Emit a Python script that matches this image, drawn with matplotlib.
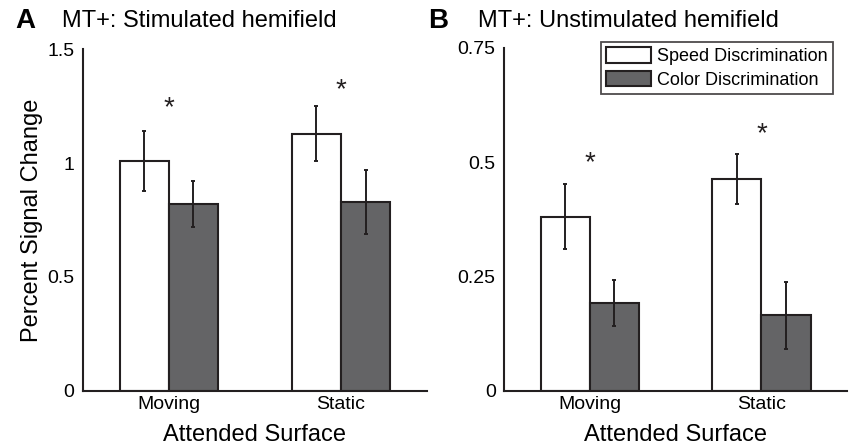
import matplotlib
matplotlib.use("Agg")
import matplotlib.pyplot as plt
from matplotlib.patches import Patch
import numpy as np

plt.rcParams['font.family'] = ['Liberation Sans', 'DejaVu Sans']

categories = ["Moving", "Static"]
series_names = ["Speed Discrimination", "Color Discrimination"]

# Panel A: stimulated hemifield
a_speed = [1.01, 1.13]
a_speed_err = [0.133, 0.12]
a_color = [0.82, 0.83]
a_color_err = [0.10, 0.14]
a_star = [1.28, 1.36]

# Panel B: unstimulated hemifield
b_speed = [0.380, 0.463]
b_speed_err = [0.071, 0.055]
b_color = [0.191, 0.165]
b_color_err = [0.050, 0.073]
b_star = [0.518, 0.580]

a_yticks = [0, 0.5, 1, 1.5]
a_yticklabels = ["0", "0.5", "1", "1.5"]
b_yticks = [0, 0.25, 0.5, 0.75]
b_yticklabels = ["0", "0.25", "0.5", "0.75"]

edge = "#231f20"
gray = "#646466"
W, H = 856, 448
fig = plt.figure(figsize=(W / 100, H / 100), dpi=100)

STAR_FS = 20

def make_panel(rect, speed, speed_err, color, color_err, star, ylim, yticks, yticklabels):
    ax = fig.add_axes(rect)
    x = np.arange(1, len(categories) + 1)
    bw = 0.286
    ax.bar(x - bw / 2, speed, bw, color="white", edgecolor=edge, linewidth=1.5, zorder=2)
    ax.bar(x + bw / 2, color, bw, color=gray, edgecolor=edge, linewidth=1.5, zorder=2)
    ax.errorbar(x - bw / 2, speed, yerr=speed_err, fmt="none", ecolor=edge,
                elinewidth=1.4, capsize=1.6, capthick=1.4, zorder=3)
    ax.errorbar(x + bw / 2, color, yerr=color_err, fmt="none", ecolor=edge,
                elinewidth=1.4, capsize=1.6, capthick=1.4, zorder=3)
    for xi, s in zip(x, star):
        ax.annotate("*", xy=(xi, s), xytext=(0, -0.58 * STAR_FS), textcoords="offset points",
                    ha="center", va="baseline", fontsize=STAR_FS, color=edge)
    ax.set_xlim(0.5, 2.5)
    ax.set_ylim(*ylim)
    ax.set_xticks(x)
    ax.set_xticklabels(categories, fontsize=14)
    ax.set_yticks(yticks)
    ax.set_yticklabels(yticklabels, fontsize=14)
    ax.tick_params(length=0, pad=6)
    ax.tick_params(axis='x', pad=4)
    for sp in ["top", "right"]:
        ax.spines[sp].set_visible(False)
    for sp in ["left", "bottom"]:
        ax.spines[sp].set_linewidth(1.5)
        ax.spines[sp].set_color(edge)
    ax.set_xlabel("Attended Surface", fontsize=17, labelpad=8)
    return ax

axA = make_panel([82.7 / W, (H - 390.7) / H, (427 - 82.7) / W, (390.7 - 49.5) / H],
                 a_speed, a_speed_err, a_color, a_color_err, a_star,
                 (0, 1.5), a_yticks, a_yticklabels)
axA.set_ylabel("Percent Signal Change", fontsize=17, labelpad=3)

axB = make_panel([504 / W, (H - 390.7) / H, (847.3 - 504) / W, (390.7 - 47.7) / H],
                 b_speed, b_speed_err, b_color, b_color_err, b_star,
                 (0, 0.75), b_yticks, b_yticklabels)

handles = [Patch(facecolor="white", edgecolor=edge, linewidth=1.5),
           Patch(facecolor=gray, edgecolor=edge, linewidth=1.5)]
leg = axB.legend(handles, series_names, loc="upper right",
                 bbox_to_anchor=(832.7 / W, (H - 41.7) / H), bbox_transform=fig.transFigure,
                 fontsize=13, frameon=True, fancybox=False, handlelength=2.5, handleheight=0.95,
                 handletextpad=0.3, borderpad=0.3, labelspacing=0.3, borderaxespad=0)
leg.get_frame().set_edgecolor(edge)
leg.get_frame().set_linewidth(1.3)

fig.text(15 / W, 1 - 21 / H, "A", fontsize=20, fontweight="bold", va="center", ha="left")
fig.text(61.7 / W, 1 - 21 / H, "MT+: Stimulated hemifield", fontsize=17, va="center", ha="left")
fig.text(428 / W, 1 - 21 / H, "B", fontsize=20, fontweight="bold", va="center", ha="left")
fig.text(478.3 / W, 1 - 21 / H, "MT+: Unstimulated hemifield", fontsize=17, va="center", ha="left")

fig.savefig("out.png", dpi=100)
